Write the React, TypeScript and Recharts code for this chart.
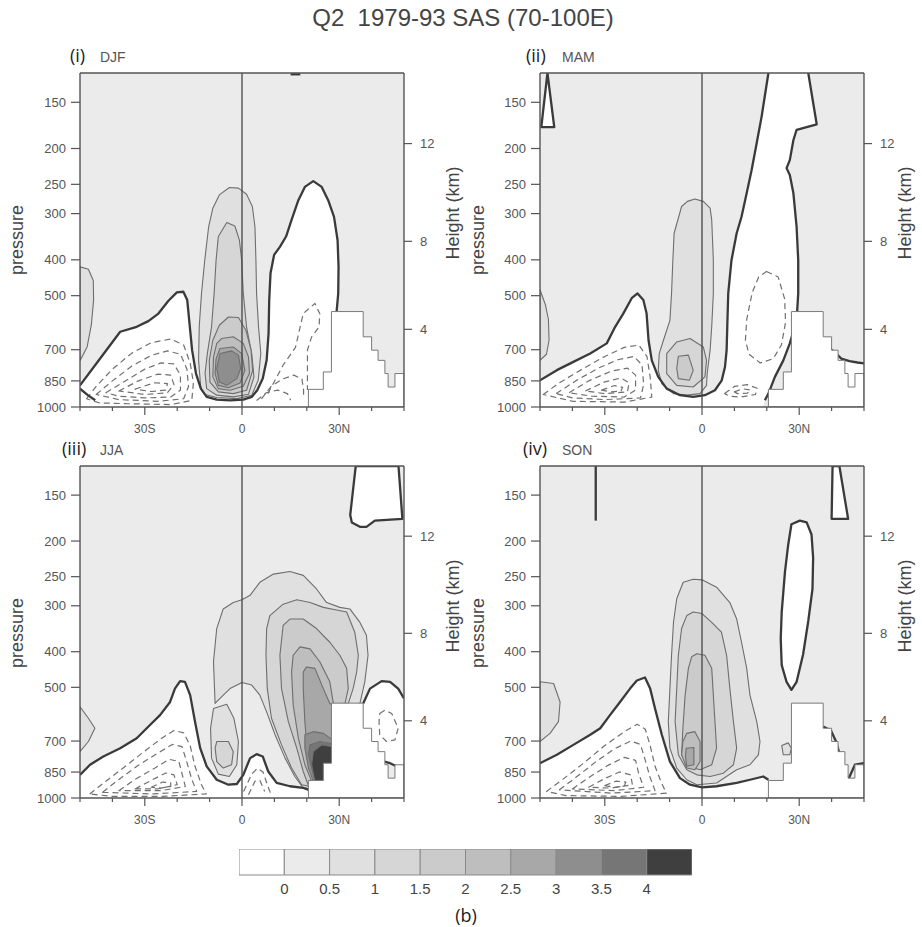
import React from 'react';
import { ComposedChart, Scatter, XAxis, YAxis, ReferenceArea } from 'recharts';

type Poly = number[][];

// axes
const latTicks = [-50, -40, -30, -20, -10, 0, 10, 20, 30, 40, 50];
const majorLats = [-30, 0, 30];
const latLabels = ['30S', '0', '30N'];
const pressureTicks = [150, 200, 250, 300, 400, 500, 700, 850, 1000];
const heightKm = [4, 8, 12];
const heightP = [616.6, 356.5, 194];

// shading levels (lower bound of each band) and colours
const levels = [0, 0.5, 1, 1.5, 2, 2.5, 3, 3.5, 4];
const levelColors = ['#ffffff', '#ebebeb', '#e0e0e0', '#d6d6d6', '#cbcbcb', '#bebebe', '#a8a8a8', '#8e8e8e', '#767676', '#3f3f3f'];
const cbEdges = [-0.5, 0, 0.5, 1, 1.5, 2, 2.5, 3, 3.5, 4, 4.5];
const cbTicks = [0, 0.5, 1, 1.5, 2, 2.5, 3, 3.5, 4];

const frame: Poly = [[-50, 125], [50, 125], [50, 1000], [-50, 1000]];
const equator: Poly = [[0, 125], [0, 1000]];
const topo: Poly = [[20.5, 1000], [20.5, 896], [25.1, 896], [25.1, 804], [27.6, 804], [27.6, 552], [37.4, 552], [37.4, 646], [40, 646], [40, 702], [42, 702], [42, 748], [44.1, 748], [44.1, 812], [45.1, 812], [45.1, 883], [47.2, 883], [47.2, 812], [50, 812], [50, 1000]];

// ---------- (i) DJF ----------
const djfZeroMain: Poly = [[-50, 874], [-42.8, 720], [-37.6, 626], [-32.5, 607], [-28.9, 586], [-25.8, 559], [-22.7, 516], [-20.1, 490], [-18.1, 488], [-16.9, 514], [-16.2, 595], [-15.4, 702], [-14.2, 812], [-12.7, 892], [-10.9, 939], [-7.8, 955], [-3.7, 959], [0.4, 955], [3, 939], [4.7, 901], [6.4, 838], [7.6, 748], [8.2, 633], [8.4, 514], [8.8, 435], [9.9, 388], [11.7, 369], [13.6, 346], [15.3, 312], [17.4, 276], [19.4, 254], [22, 245], [24.6, 254], [26.6, 276], [28.4, 306], [29.5, 354], [29.8, 418], [29.7, 493], [29.2, 552]];
const djfZeroCorner: Poly = [[-50, 892], [-47.5, 930], [-45.3, 959]];
const djfZeroTop: Poly = [[15, 126], [18, 126]];
const djfWhite: Poly = [...djfZeroMain, [27.6, 552], [27.6, 1000], [-50, 1000]];
const djf05: Poly = [[-12.7, 892], [-13.4, 748], [-13.2, 607], [-12.5, 493], [-11.5, 401], [-10.3, 326], [-9, 290], [-7, 267], [-3.9, 255], [-1.1, 256], [1.4, 266], [3.2, 287], [4, 326], [4.3, 401], [4.5, 493], [5.1, 607], [5.8, 717], [5, 847], [3, 929], [-1.6, 949], [-7.8, 943], [-11.4, 925]];
const djf10: Poly = [[-4.7, 317], [-2.2, 324], [-0.8, 354], [-0.1, 401], [0.4, 493], [1.4, 607], [3, 717], [3.7, 829], [2, 924], [-2.7, 939], [-7.8, 929], [-10.9, 892], [-11.4, 812], [-10.7, 717], [-9.4, 607], [-8.6, 493], [-8, 401], [-7.3, 346]];
const djf15: Poly = [[-4.2, 571], [-1.1, 573], [1.2, 620], [2.8, 702], [3.3, 796], [1.4, 901], [-2.7, 920], [-7.3, 910], [-9.9, 856], [-10.1, 748], [-9, 660], [-7, 601]];
const djf20: Poly = [[-6.3, 653], [-2.7, 646], [0.4, 673], [2, 732], [2.3, 812], [0.4, 879], [-3.7, 901], [-7.3, 892], [-9, 829], [-8.8, 732], [-7.8, 673]];
const djf25: Poly = [[-6.8, 695], [-2.7, 688], [-0.1, 717], [0.9, 796], [-0.6, 861], [-4.2, 887], [-7.3, 874], [-8.3, 812], [-8, 740]];
const djf30: Poly = [[-6.8, 717], [-3.2, 705], [-1.1, 724], [-0.4, 787], [-1.6, 838], [-4.7, 874], [-7, 856], [-7.8, 787]];
const djfEdge: Poly = [[-50, 418], [-47.4, 424], [-45.9, 455], [-45.8, 514], [-46.5, 600], [-47.8, 688], [-50, 750]];
const djfDash1: Poly = [[-48, 950], [-45, 880], [-40, 790], [-34, 715], [-28, 670], [-22, 655], [-18, 680], [-16, 760], [-15, 860], [-15.5, 960], [-22, 985], [-35, 980], [-44, 975]];
const djfDash2: Poly = [[-45, 925], [-40, 850], [-34, 775], [-28, 725], [-23, 705], [-19, 720], [-17, 790], [-16.5, 880], [-18, 950], [-26, 965], [-38, 955]];
const djfDash3: Poly = [[-42, 915], [-36, 850], [-30, 790], [-25, 760], [-21, 765], [-19, 820], [-19, 900], [-22, 940], [-30, 945], [-38, 935]];
const djfDash4: Poly = [[-38, 905], [-32, 850], [-26, 815], [-22, 820], [-21, 870], [-23, 915], [-30, 925]];
const djfDash5: Poly = [[-33, 895], [-27, 860], [-23, 865], [-23.5, 900], [-28, 908]];
const djfDashR1: Poly = [[8, 920], [12.7, 770], [16.5, 690], [18.9, 559], [22.5, 525], [24, 559], [23.8, 607], [21.5, 646], [20.2, 702], [20.2, 900]];
const djfDashR2: Poly = [[6, 950], [9, 880], [12.5, 840], [16, 820], [18.5, 840], [19, 900], [19, 950]];
const djfDashR3: Poly = [[4.5, 960], [7.5, 915], [11, 900], [14, 920], [15, 958]];

// ---------- (ii) MAM ----------
const mamTri: Poly = [[-49.6, 175], [-47.7, 125], [-45.6, 175]];
const mamZeroLeft: Poly = [[-50, 847], [-44.8, 795], [-39.7, 755], [-34.5, 717], [-29.4, 673], [-26.8, 607], [-24.3, 559], [-21.7, 508], [-19.9, 493], [-18.1, 514], [-17.1, 559], [-16.5, 660], [-15.5, 748], [-13.5, 829], [-10.9, 892], [-6.8, 929], [-2.7, 939], [0.9, 929], [4, 901], [6.1, 847], [7.1, 779], [7.6, 702], [7.8, 607], [8.1, 493], [9.1, 401], [10.7, 339], [12.2, 306], [13.8, 264], [15.3, 229], [16.9, 193], [18.4, 164], [19.4, 144], [20.5, 125]];
const mamZeroRight: Poly = [[32.8, 125], [35.4, 172], [29.2, 178], [28.2, 190], [27.1, 215], [26.1, 226], [27.1, 236], [28.2, 264], [29.2, 326], [29.7, 401], [29.7, 493], [29.2, 583], [27.1, 673], [25.1, 748], [22.5, 829], [20.5, 920], [19.4, 959]];
const mamWhite: Poly = [...mamZeroLeft, ...mamZeroRight, [18.8, 1000], [-50, 1000]];
const mamZeroEdge: Poly = [[39, 690], [41, 712], [43, 740], [45.5, 752], [48, 758], [50, 762]];
const mamWhiteEdge: Poly = [...mamZeroEdge, [50, 1000], [39, 1000]];
const mam05: Poly = [[-2.2, 274], [0.4, 278], [2.5, 290], [3, 312], [3.5, 401], [3.5, 493], [3, 607], [2.5, 702], [1.6, 812], [1.4, 874], [-0.6, 920], [-4.7, 929], [-8.8, 920], [-12.4, 865], [-13.5, 796], [-13.2, 717], [-11.9, 660], [-9.9, 583], [-9.4, 493], [-9, 401], [-8.6, 339], [-6.3, 287], [-4.5, 278]];
const mam10: Poly = [[-7.8, 667], [-3.7, 653], [0.4, 688], [1.4, 748], [0.9, 829], [-2.7, 883], [-7.8, 874], [-10.9, 812], [-10.9, 717]];
const mam15: Poly = [[-7.3, 729], [-4.2, 724], [-2.7, 796], [-3.9, 847], [-7.3, 838], [-7.8, 787]];
const mamEdge: Poly = [[-50, 482], [-48.3, 530], [-47.4, 580], [-47.2, 660], [-48, 720], [-50, 748]];
const mamDash1: Poly = [[-49, 925], [-44, 860], [-37, 790], [-30, 730], [-24, 690], [-19.5, 680], [-17, 730], [-16, 830], [-15.5, 940], [-24, 970], [-40, 965]];
const mamDash2: Poly = [[-45, 920], [-39, 850], [-32, 785], [-26, 745], [-21, 730], [-18.5, 770], [-18, 870], [-19, 945], [-30, 955], [-40, 945]];
const mamDash3: Poly = [[-41, 915], [-35, 850], [-28, 800], [-23, 785], [-20.5, 820], [-20.5, 900], [-24, 940], [-34, 935]];
const mamDash4: Poly = [[-36, 905], [-30, 855], [-25, 835], [-22.5, 860], [-23, 910], [-30, 920]];
const mamDash5: Poly = [[-31, 900], [-27, 875], [-24.5, 885], [-25, 905], [-28, 910]];
const mamDashR: Poly = [[19.9, 430], [23.5, 445], [25.5, 510], [25.8, 590], [24.5, 680], [22, 740], [18, 760], [14.5, 720], [13.4, 660], [13.8, 580], [15.5, 490], [17.5, 445]];
const mamDashS1: Poly = [[7, 920], [10, 880], [14, 870], [17, 890], [16.5, 925], [12, 940], [8.5, 935]];
const mamDashS2: Poly = [[10, 910], [12.5, 893], [15, 900], [14, 918], [11, 920]];

// ---------- (iii) JJA ----------
const jjaBox: Poly = [[35.1, 125], [33.4, 170], [33.9, 178], [36.4, 183], [38.4, 183], [41, 176], [49.5, 174], [48.3, 125]];
const jjaZeroMain: Poly = [[-50, 865], [-46.9, 812], [-42.8, 771], [-37.6, 732], [-32.5, 688], [-28.4, 633], [-25.3, 595], [-22.2, 548], [-20.7, 504], [-19.1, 481], [-17.6, 483], [-16, 525], [-14.5, 620], [-12.9, 732], [-10.9, 820], [-7.8, 892], [-4.2, 920], [-1.6, 916], [0.4, 865], [2.5, 779], [4.5, 760], [6.4, 771], [8.1, 847], [10.7, 910], [14.8, 929], [18.9, 939], [20.5, 948]];
const jjaWhite: Poly = [...jjaZeroMain, [20.5, 1000], [-50, 1000]];
const jjaZeroR1: Poly = [[37.4, 553], [39.5, 504], [43.1, 481], [45.7, 483], [48.2, 504], [50, 536]];
const jjaZeroR2: Poly = [[42.3, 789], [45.7, 804], [50, 838]];
const jjaWhiteR: Poly = [...jjaZeroR1, [50, 838], [45.7, 804], [42.3, 789], [37.4, 700]];
const jja05: Poly = [[-8.3, 553], [-8.8, 426], [-7.8, 346], [-5.8, 306], [-2.7, 294], [0, 289], [2.5, 281], [5.5, 259], [9.7, 246], [14.8, 242], [18.9, 248], [23, 270], [26.1, 294], [30.2, 303], [33.3, 306], [36.4, 333], [38.4, 361], [38.9, 409], [37.9, 483], [36.4, 553], [28, 600], [28, 810], [25.5, 810], [25.5, 900], [21, 900], [21, 960], [18.9, 939], [16.3, 874], [13.3, 779], [10.2, 673], [7.6, 583], [5.5, 525], [3, 493], [0, 485], [-3.7, 504], [-6.8, 536]];
const jjaBlob05: Poly = [[-8.8, 571], [-4.7, 556], [-2.5, 607], [-1.1, 702], [-1.6, 812], [-3.9, 874], [-7.3, 861], [-9.4, 779], [-9.7, 646]];
const jjaBlob10: Poly = [[-7.8, 702], [-4.2, 702], [-2.7, 748], [-3.2, 812], [-5.8, 829], [-7.8, 796], [-8.3, 732]];
const jja10: Poly = [[7.6, 346], [8.6, 319], [12.7, 297], [16.9, 289], [21, 294], [25.1, 303], [29.2, 308], [32.3, 312], [34.8, 354], [35.9, 409], [35.4, 454], [34.3, 504], [32.8, 553], [28, 560], [28, 810], [25.5, 810], [25.5, 900], [21, 930], [18.4, 920], [15.3, 829], [12.2, 717], [9.1, 607], [7.8, 504], [7.4, 409]];
const jja15: Poly = [[12.7, 339], [14.8, 326], [18.9, 326], [23, 346], [27.1, 377], [30.2, 409], [32.3, 444], [32.8, 504], [31.8, 553], [28, 560], [28, 810], [25.5, 810], [25.5, 900], [20.6, 930], [18.9, 847], [16.9, 732], [14.3, 620], [12.2, 504], [11.7, 409]];
const jja20: Poly = [[15.8, 409], [17.9, 388], [21, 393], [24, 426], [27.1, 483], [28.2, 553], [28, 810], [25.5, 810], [25.5, 900], [21.5, 900], [19.4, 812], [17.4, 688], [15.8, 559], [15.3, 454]];
const jja25: Poly = [[18.9, 454], [19.9, 440], [22.5, 444], [25.1, 504], [27.1, 553], [28, 560], [28, 810], [25.5, 810], [25.5, 900], [22, 901], [21, 812], [19.9, 702], [19.4, 620], [18.9, 504]];
const jja30: Poly = [[19.4, 673], [22, 660], [25.1, 667], [28, 695], [28, 810], [25.5, 810], [25.5, 900], [22, 901], [20.5, 829], [19.4, 732]];
const jja35: Poly = [[21, 717], [24, 702], [28, 712], [28, 810], [25.5, 810], [25.5, 900], [22.5, 900], [20.5, 763]];
const jja40: Poly = [[22, 748], [24.6, 717], [28, 725], [28, 810], [25.5, 810], [25.5, 900], [22.5, 900], [21.5, 812]];
const jjaEdge: Poly = [[-50, 565], [-47.4, 607], [-45.4, 646], [-47.4, 702], [-50, 748]];
const jjaDash1: Poly = [[-47, 975], [-42, 900], [-36, 820], [-30, 745], [-25, 690], [-21, 655], [-18, 665], [-16, 720], [-14.5, 820], [-12.5, 920], [-11, 975], [-25, 990], [-40, 990]];
const jjaDash2: Poly = [[-43, 965], [-38, 890], [-32, 815], [-26, 755], [-21.5, 715], [-18.5, 725], [-17, 800], [-15.5, 890], [-14, 960], [-28, 975]];
const jjaDash3: Poly = [[-38, 955], [-33, 890], [-27, 830], [-22.5, 785], [-19.5, 795], [-18.5, 860], [-17.5, 930], [-25, 955]];
const jjaDash4: Poly = [[-33, 945], [-28, 895], [-23.5, 855], [-21, 865], [-20, 920], [-26, 945]];
const jjaDash5: Poly = [[-28, 935], [-24.5, 905], [-22, 910], [-22, 930], [-25, 940]];
const jjaDashB1: Poly = [[0.5, 960], [3, 860], [4.8, 830], [6.5, 850], [8, 930], [9, 980]];
const jjaDashB2: Poly = [[2, 980], [4, 900], [5.5, 895], [7, 960]];
const jjaDashR: Poly = [[42.5, 589], [44.1, 577], [46.2, 589], [48.2, 646], [47.2, 695], [44.6, 702], [42.5, 673], [42.3, 620]];

// ---------- (iv) SON ----------
const sonLine: Poly = [[-32.8, 125], [-32.8, 176]];
const sonTri: Poly = [[40.3, 125], [42.4, 125], [45.1, 174], [40, 174]];
const sonEllipse: Poly = [[30.2, 176], [32.3, 178], [33.8, 192], [34.3, 222], [34.1, 270], [32.8, 330], [31.2, 407], [29.2, 483], [27.6, 508], [26.1, 483], [24.6, 435], [24.3, 369], [24.6, 312], [25.6, 243], [26.6, 205], [27.6, 180]];
const sonZeroMain: Poly = [[-50, 804], [-44.8, 763], [-39.7, 717], [-34.5, 673], [-31.4, 646], [-28.4, 595], [-25.3, 548], [-22.2, 504], [-20.1, 479], [-17.6, 470], [-16, 504], [-14.5, 571], [-12.4, 673], [-9.9, 796], [-6.8, 883], [-3.7, 920], [0, 936], [4.5, 929], [10.7, 910], [14.8, 892], [18.9, 874], [20.5, 892]];
const sonWhite: Poly = [...sonZeroMain, [20.5, 1000], [-50, 1000]];
const sonZeroR1: Poly = [[37.4, 639], [39.8, 655], [41.3, 700], [42.5, 760]];
const sonZeroR2: Poly = [[45.1, 892], [47.2, 812], [50, 804]];
const son05: Poly = [[-2.7, 254], [0, 255], [4.5, 267], [8.6, 294], [10.7, 326], [12.2, 377], [13.8, 444], [14.8, 525], [16.9, 620], [17.9, 702], [17.4, 763], [14.8, 812], [10.7, 838], [4.5, 910], [-1.6, 920], [-4.7, 892], [-7.8, 829], [-9.9, 732], [-10.4, 620], [-9.9, 504], [-9.4, 409], [-8.8, 333], [-7.8, 287], [-5.8, 259]];
const son10: Poly = [[-2.7, 312], [0, 315], [3, 333], [6, 354], [7.6, 409], [8.6, 504], [9.7, 620], [10.7, 732], [9.7, 812], [6.6, 856], [2.5, 874], [-1.6, 865], [-4.7, 838], [-7.3, 763], [-8.3, 620], [-7.8, 504], [-7.3, 409], [-6.3, 346], [-4.7, 319]];
const son15: Poly = [[-1.6, 405], [0.9, 409], [3, 444], [3.5, 525], [4, 620], [4.5, 732], [3, 812], [-0.6, 838], [-4.2, 820], [-6.3, 763], [-5.9, 646], [-5.2, 525], [-4.2, 444], [-3.2, 413]];
const son20: Poly = [[-4.7, 667], [-2.2, 660], [-0.6, 702], [-0.6, 796], [-2.2, 838], [-4.7, 829], [-6.3, 763], [-5.9, 702]];
const son25: Poly = [[-4.9, 732], [-2.5, 729], [-2.5, 812], [-4.7, 820], [-5.1, 771]];
const sonEdge: Poly = [[-50, 483], [-45.8, 488], [-43.8, 548], [-44.3, 620], [-46.9, 667], [-50, 702]];
const sonSmall: Poly = [[24.6, 720], [26.6, 708], [27.6, 732], [27.1, 763], [25.1, 763]];
const sonDash1: Poly = [[-48, 960], [-43, 890], [-37, 810], [-30, 720], [-24, 660], [-20, 630], [-17.5, 650], [-16, 720], [-14.5, 820], [-12.5, 910], [-11, 970], [-25, 990], [-42, 985]];
const sonDash2: Poly = [[-44, 950], [-39, 880], [-33, 800], [-27, 735], [-22, 700], [-19, 715], [-17.5, 790], [-16, 880], [-14.5, 955], [-28, 970]];
const sonDash3: Poly = [[-40, 945], [-35, 880], [-29, 815], [-24, 775], [-20.5, 790], [-19.5, 860], [-18, 935], [-27, 955]];
const sonDash4: Poly = [[-35, 935], [-30, 885], [-25.5, 850], [-22, 865], [-21.5, 920], [-28, 940]];
const sonDash5: Poly = [[-30, 925], [-26.5, 900], [-23.5, 905], [-24, 928], [-27, 935]];

interface PanelSpec {
  num: string;
  x: number;
  y: number;
  h: number;
  white: Poly[];
  shades: [number, Poly][];
  dashLoops: Poly[];
  dashLines: Poly[];
  zeroLoops: Poly[];
  zeroLines: Poly[];
}

const panels: PanelSpec[] = [
  {
    num: '(i)', x: 80, y: 73, h: 334,
    white: [djfWhite],
    shades: [[0.5, djfEdge], [0.5, djf05], [1, djf10], [1.5, djf15], [2, djf20], [2.5, djf25], [3, djf30]],
    dashLoops: [djfDash1, djfDash2, djfDash3, djfDash4, djfDash5],
    dashLines: [djfDashR1, djfDashR2, djfDashR3],
    zeroLoops: [],
    zeroLines: [djfZeroMain, djfZeroCorner, djfZeroTop],
  },
  {
    num: '(ii)', x: 540, y: 73, h: 334,
    white: [mamWhite, mamWhiteEdge],
    shades: [[0.5, mamEdge], [0.5, mam05], [1, mam10], [1.5, mam15]],
    dashLoops: [mamDash1, mamDash2, mamDash3, mamDash4, mamDash5, mamDashR, mamDashS1, mamDashS2],
    dashLines: [],
    zeroLoops: [mamTri],
    zeroLines: [mamZeroLeft, mamZeroRight, mamZeroEdge],
  },
  {
    num: '(iii)', x: 80, y: 466, h: 332,
    white: [jjaWhite, jjaWhiteR],
    shades: [[0.5, jjaEdge], [0.5, jja05], [0.5, jjaBlob05], [1, jjaBlob10], [1, jja10], [1.5, jja15], [2, jja20], [2.5, jja25], [3, jja30], [3.5, jja35], [4, jja40]],
    dashLoops: [jjaDash1, jjaDash2, jjaDash3, jjaDash4, jjaDash5, jjaDashR],
    dashLines: [jjaDashB1, jjaDashB2],
    zeroLoops: [jjaBox],
    zeroLines: [jjaZeroMain, jjaZeroR1, jjaZeroR2],
  },
  {
    num: '(iv)', x: 540, y: 466, h: 332,
    white: [sonWhite],
    shades: [[0.5, sonEdge], [0.5, sonSmall], [0.5, son05], [1, son10], [1.5, son15], [2, son20], [2.5, son25]],
    dashLoops: [sonDash1, sonDash2, sonDash3, sonDash4, sonDash5],
    dashLines: [],
    zeroLoops: [sonTri, sonEllipse],
    zeroLines: [sonZeroMain, sonLine, sonZeroR1, sonZeroR2],
  },
];

const noShape = () => <g />;

function poly(key: string, data: Poly, fill: string, stroke: string, width: number, closed: boolean, dash?: string) {
  return (
    <Scatter
      key={key}
      data={data.map(([lat, p]) => ({ lat, p }))}
      shape={noShape}
      line={{ fill, stroke, strokeWidth: width, strokeDasharray: dash, strokeLinejoin: 'round' }}
      lineJointType={closed ? 'linearClosed' : 'linear'}
      isAnimationActive={false}
    />
  );
}

const shadeColor = (lv: number) => levelColors[levels.indexOf(lv) + 1];

const BottomTick = (props: any) => {
  const { x, y, payload } = props;
  const i = majorLats.indexOf(payload.value);
  return (
    <g>
      <line x1={x} x2={x} y1={y} y2={y + (i >= 0 ? 8 : 4)} stroke="#555" strokeWidth={1.2} />
      {i >= 0 && (
        <text x={x} y={y + 26} textAnchor="middle" fontSize={12} fill="#555">{latLabels[i]}</text>
      )}
    </g>
  );
};

const TopTick = (props: any) => {
  const { x, y, payload } = props;
  const major = majorLats.includes(payload.value);
  return <line x1={x} x2={x} y1={y} y2={y - (major ? 9 : 4)} stroke="#555" strokeWidth={1.2} />;
};

const axisLine = { stroke: '#555', strokeWidth: 1.4 };

const Panel = ({ spec }: { spec: PanelSpec }) => (
  <div style={{ position: 'absolute', left: spec.x - 50, top: spec.y - 20 }}>
    <ComposedChart width={424} height={spec.h + 60} margin={{ top: 0, right: 0, bottom: 0, left: 0 }}>
      <XAxis dataKey="lat" type="number" domain={[-50, 50]} ticks={latTicks} interval={0} allowDataOverflow height={40}
        tickSize={0} tickMargin={0} tickLine={false} tick={BottomTick} axisLine={axisLine} />
      <XAxis xAxisId="top" orientation="top" type="number" domain={[-50, 50]} ticks={latTicks} interval={0} allowDataOverflow height={20}
        tickSize={0} tickMargin={0} tickLine={false} tick={TopTick} axisLine={axisLine} />
      <YAxis dataKey="p" type="number" scale="log" domain={[125, 1000]} reversed allowDataOverflow ticks={pressureTicks} interval={0}
        width={50} tickSize={9} tickMargin={5} tick={{ fontSize: 13, fill: '#555' }} tickLine={{ stroke: '#555', strokeWidth: 1.2 }} axisLine={axisLine} />
      <YAxis yAxisId="h" orientation="right" type="number" scale="log" domain={[125, 1000]} reversed allowDataOverflow ticks={heightP} interval={0}
        tickFormatter={(v: number) => String(heightKm[heightP.indexOf(v)] ?? '')}
        width={50} tickSize={8} tickMargin={8} tick={{ fontSize: 13, fill: '#555' }} tickLine={{ stroke: '#555', strokeWidth: 1.2 }} axisLine={axisLine} />
      {poly('bg', frame, levelColors[1], 'none', 0, true)}
      {spec.white.map((d, i) => poly(`w${i}`, d, '#ffffff', 'none', 0, true))}
      {spec.shades.map(([lv, d], i) => poly(`s${i}`, d, shadeColor(lv), '#6e6e6e', 1.1, true))}
      {spec.dashLoops.map((d, i) => poly(`dl${i}`, d, 'none', '#707070', 1.2, true, '6 4'))}
      {spec.dashLines.map((d, i) => poly(`dn${i}`, d, 'none', '#707070', 1.2, false, '6 4'))}
      {spec.zeroLoops.map((d, i) => poly(`zl${i}`, d, '#ffffff', '#3a3a3a', 2.3, true))}
      {spec.zeroLines.map((d, i) => poly(`zn${i}`, d, 'none', '#3a3a3a', 2.3, false))}
      {poly('topo', topo, '#ffffff', '#7a7a7a', 1, true)}
      {poly('eq', equator, 'none', '#444', 1.3, false)}
      {poly('frame', frame, 'none', '#555', 1.4, true)}
    </ComposedChart>
  </div>
);

const cbBands = cbEdges.slice(0, -1).map((lo, i) => ({ lo, hi: cbEdges[i + 1], color: levelColors[i] }));

const Colorbar = () => (
  <div style={{ position: 'absolute', left: 239, top: 849 }}>
    <ComposedChart width={453} height={56} margin={{ top: 0, right: 0, bottom: 0, left: 0 }} data={cbBands}>
      <XAxis dataKey="lo" type="number" domain={[-0.5, 4.5]} ticks={cbTicks} interval={0} allowDataOverflow height={30}
        axisLine={false} tickLine={false} tickSize={6} tickMargin={2} tick={{ fontSize: 15, fill: '#444' }} />
      <YAxis hide type="number" domain={[0, 1]} allowDataOverflow />
      {cbBands.map((b, i) => (
        <ReferenceArea key={i} x1={b.lo} x2={b.hi} y1={0} y2={1} fill={b.color} fillOpacity={1}
          stroke="#8a8a8a" strokeWidth={1} ifOverflow="visible" />
      ))}
    </ComposedChart>
  </div>
);

const rotated = (text: string, cx: number, cy: number) => (
  <div key={`${text}${cx}${cy}`} style={{
    position: 'absolute', left: cx, top: cy, transform: 'translate(-50%, -50%) rotate(-90deg)',
    whiteSpace: 'nowrap', fontSize: 18, lineHeight: 1, color: '#444',
  }}>{text}</div>
);

const panelLabels = [
  { num: '(i)', season: 'DJF', x: 70, sx: 100, y: 46 },
  { num: '(ii)', season: 'MAM', x: 526, sx: 562, y: 46 },
  { num: '(iii)', season: 'JJA', x: 62, sx: 100, y: 439 },
  { num: '(iv)', season: 'SON', x: 523, sx: 562, y: 439 },
];

export default function App() {
  return (
    <div style={{ position: 'absolute', left: 0, top: 0, width: 922, height: 927, background: '#fff',
      fontFamily: "'Liberation Sans', Arial, sans-serif", overflow: 'hidden' }}>
      <div style={{ position: 'absolute', left: 463, top: 18, transform: 'translate(-50%, -50%)', fontSize: 24,
        color: '#444', whiteSpace: 'pre', lineHeight: 1 }}>Q2  1979-93 SAS (70-100E)</div>
      {panelLabels.map((l) => (
        <React.Fragment key={l.num}>
          <div style={{ position: 'absolute', left: l.x, top: l.y, fontSize: 18, lineHeight: 1, color: '#222',
            fontFamily: "'Open Sans', sans-serif" }}>{l.num}</div>
          <div style={{ position: 'absolute', left: l.sx, top: l.y + 4, fontSize: 14, lineHeight: 1, color: '#555' }}>{l.season}</div>
        </React.Fragment>
      ))}
      {panels.map((p) => <Panel key={p.num} spec={p} />)}
      {rotated('pressure', 17, 240)}
      {rotated('pressure', 478, 240)}
      {rotated('pressure', 17, 633)}
      {rotated('pressure', 478, 633)}
      {rotated('Height (km)', 453, 213)}
      {rotated('Height (km)', 905, 213)}
      {rotated('Height (km)', 453, 606)}
      {rotated('Height (km)', 905, 606)}
      <Colorbar />
      <div style={{ position: 'absolute', left: 466, top: 915, transform: 'translate(-50%, -50%)', fontSize: 18,
        lineHeight: 1, color: '#222', fontFamily: "'Open Sans', sans-serif" }}>(b)</div>
    </div>
  );
}
